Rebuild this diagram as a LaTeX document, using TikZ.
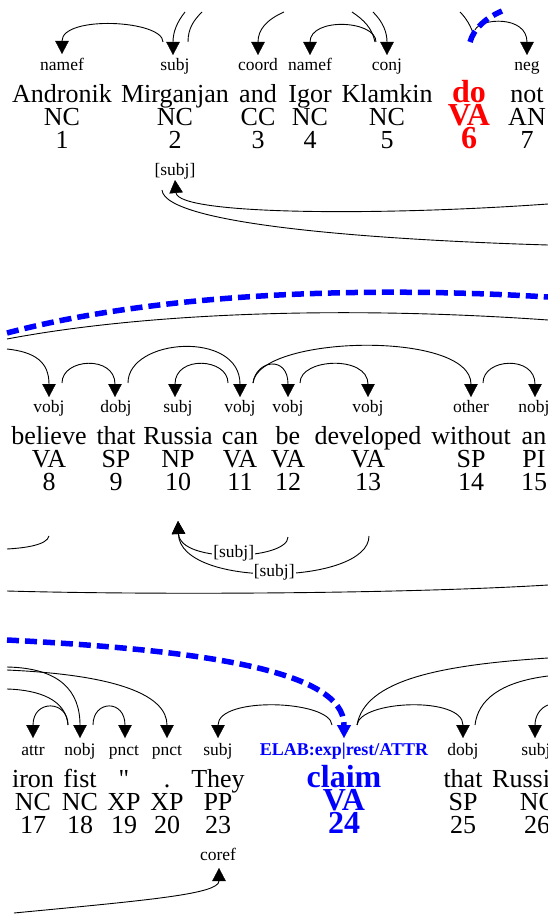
\documentclass[tikz,border=0pt]{standalone}
\usepackage{fontspec}
\setmainfont{Liberation Serif}
\usetikzlibrary{arrows.meta}
\newcommand{\deptok}[7]{%
  \node[lb] (l#1) at (#2,{#3+71}) {#4};
  \node[wd] (w#1) at (#2,{#3+103}) {#5};
  \node[wd] (p#1) at (#2,{#3+126}) {#6};
  \node[wd] (n#1) at (#2,{#3+149}) {#7};}
\newcommand{\straightquote}{\XeTeXglyph\XeTeXcharglyph34\relax}
\begin{document}
\begin{tikzpicture}[x=1pt,y=-1pt,
  wd/.style={font=\fontsize{26}{26}\selectfont,anchor=base,inner sep=0pt},
  lb/.style={font=\fontsize{17.5}{17.5}\selectfont,anchor=base,inner sep=0pt},
  hl/.style={font=\bfseries\fontsize{32}{32}\selectfont,anchor=base,inner sep=0pt},
  hllb/.style={font=\bfseries\fontsize{18}{18}\selectfont,anchor=base,inner sep=0pt,text=blue},
  arc/.style={line width=0.9pt},
  dep/.style={arc,-{Triangle[width=13.5pt,length=13pt,line width=0.4pt]}},
  rel/.style={draw=blue,line width=5.5pt,dash pattern=on 12pt off 6pt},
  relarr/.style={rel,-{Triangle[width=14pt,length=13pt,line width=0.4pt]}},
  sublb/.style={font=\fontsize{17.5}{17.5}\selectfont,fill=white,inner sep=1pt}]
\useasboundingbox (0,0) rectangle (548,917);
\clip (0,0) rectangle (548,917);
% ---------------- strip 1 ----------------
\deptok{1}{62}{0}{namef}{Andronik}{NC}{1}
\deptok{2}{175}{0}{subj}{Mirganjan}{NC}{2}
\deptok{3}{258}{0}{coord}{and}{CC}{3}
\deptok{4}{310}{0}{namef}{Igor}{NC}{4}
\deptok{5}{387}{0}{conj}{Klamkin}{NC}{5}
\node[hl,text=red] (w6) at (469,103) {do};
\node[hl,text=red] (p6) at (469,126) {VA};
\node[hl,text=red] (n6) at (469,149) {6};
\deptok{7}{527}{0}{neg}{not}{AN}{7}
\node[lb] (sj2) at (175,176) {[subj]};
% connectors strip 1
\coordinate (a1s) at (163,42);  \coordinate (a1t) at (62,54);
\coordinate (a2s) at (185,12);  \coordinate (a2t) at (173,55);
\coordinate (a3s) at (188,42);  \coordinate (a3t) at (202,12);
\coordinate (a4s) at (284,12);  \coordinate (a4t) at (258,55);
\coordinate (a5s) at (376,42);  \coordinate (a5t) at (310,55);
\coordinate (a6s) at (375,42);  \coordinate (a6t) at (352,12);
\coordinate (a7s) at (373,12);  \coordinate (a7t) at (387,55);
\coordinate (a8s) at (460,12);  \coordinate (a8t) at (474,36);
\coordinate (a9s) at (470,42);  \coordinate (a9t) at (502,11);
\coordinate (ans) at (475,30);  \coordinate (ant) at (527,55);
\coordinate (b1s) at (548,204); \coordinate (b1t) at (175,180);
\coordinate (b2s) at (162,190); \coordinate (b2t) at (548,245);
\draw[dep] (a1s) .. controls +(0,-22) and +(0,-39) .. (a1t);
\draw[dep] (a2s) .. controls +(-8,10) and +(0,-23) .. (a2t);
\draw[arc] (a3s) .. controls +(0,-14) and +(-8,8) .. (a3t);
\draw[dep] (a4s) .. controls +(-18,8) and +(0,-25) .. (a4t);
\draw[dep] (a5s) .. controls +(0,-22) and +(0,-38) .. (a5t);
\draw[arc] (a6s) .. controls +(-3,-14) and +(12,8) .. (a6t);
\draw[dep] (a7s) .. controls +(10,10) and +(0,-23) .. (a7t);
\draw[arc] (a8s) .. controls +(6,6) and +(-3,-10) .. (a8t);
\draw[dep] (ans) .. controls +(5,-12) and +(0,-40) .. (ant);
\draw[rel] (a9s) .. controls +(4,-14) and +(-16,7) .. (a9t);
\draw[dep] (b1s) .. controls +(-168,12) and +(3,35) .. (b1t);
\draw[arc] (b2s) .. controls +(3,35) and +(-168,-5) .. (b2t);
% ---------------- strip 2 ----------------
\deptok{8}{49}{341}{vobj}{believe}{VA}{8}
\deptok{9}{116}{341}{dobj}{that}{SP}{9}
\deptok{10}{178}{341}{subj}{Russia}{NP}{10}
\deptok{11}{240}{341}{vobj}{can}{VA}{11}
\deptok{12}{288}{341}{vobj}{be}{VA}{12}
\deptok{13}{368}{341}{vobj}{developed}{VA}{13}
\deptok{14}{471}{341}{other}{without}{SP}{14}
\deptok{15}{534}{341}{nobj}{an}{PI}{15}
\coordinate (c1s) at (7,333);   \coordinate (c1t) at (548,297);
\coordinate (c2s) at (7,339);   \coordinate (c2t) at (548,320);
\coordinate (c3s) at (7,349);   \coordinate (c3t) at (49,397);
\coordinate (c4s) at (62,383);  \coordinate (c4t) at (115,397);
\coordinate (c5s) at (128,383); \coordinate (c5t) at (240,397);
\coordinate (c6s) at (228,383); \coordinate (c6t) at (175,397);
\coordinate (c7s) at (253,383); \coordinate (c7t) at (288,397);
\coordinate (c8t) at (471,397);
\coordinate (c9s) at (300,383); \coordinate (c9t) at (368,397);
\coordinate (c10s) at (483,383); \coordinate (c10t) at (535,397);
\coordinate (d1s) at (49,536);  \coordinate (d1t) at (7,549);
\coordinate (d2s) at (288,537); \coordinate (d2t) at (178,521);
\coordinate (d3s) at (369,536);
\coordinate (d4s) at (7,591);   \coordinate (d4t) at (548,585);
\draw[arc] (c2s) .. controls +(143,-27) and +(-198,-14) .. (c2t);
\draw[rel] (c1s) .. controls +(143,-38) and +(-198,-12) .. (c1t);
\draw[dep] (c3s) .. controls +(28,3) and +(0,-35) .. (c3t);
\draw[dep] (c4s) .. controls +(0,-25) and +(0,-42) .. (c4t);
\draw[dep] (c5s) .. controls +(0,-45) and +(0,-67) .. (c5t);
\draw[dep] (c6s) .. controls +(0,-25) and +(0,-42) .. (c6t);
\draw[dep] (c7s) .. controls +(3,-23) and +(0,-42) .. (c7t);
\draw[dep] (c7s) .. controls +(5,-48) and +(0,-67) .. (c8t);
\draw[dep] (c9s) .. controls +(0,-25) and +(0,-42) .. (c9t);
\draw[dep] (c10s) .. controls +(0,-25) and +(0,-42) .. (c10t);
\draw[arc] (d1s) .. controls +(-2,9) and +(18,-1) .. (d1t);
\draw[dep] (d3s) .. controls +(0,49) and +(2,68) .. node[sublb,pos=0.5] {[subj]} (d2t);
\draw[dep] (d2s) .. controls +(0,23) and +(2,43) .. node[sublb,pos=0.5] {[subj]} (d2t);
\draw[arc] (d4s) .. controls +(143,4) and +(-148,9) .. (d4t);
% ---------------- strip 3 ----------------
\deptok{17}{33}{684}{attr}{iron}{NC}{17}
\deptok{18}{80}{684}{nobj}{fist}{NC}{18}
\deptok{19}{124}{684}{pnct}{\straightquote}{XP}{19}
\deptok{20}{167}{684}{pnct}{.}{XP}{20}
\deptok{23}{218}{684}{subj}{They}{PP}{23}
\node[hllb] (l24) at (344,755) {ELAB:exp|rest/ATTR};
\node[hl,text=blue] (w24) at (344,787) {claim};
\node[hl,text=blue] (p24) at (344,810) {VA};
\node[hl,text=blue] (n24) at (344,833) {24};
\deptok{25}{463}{684}{dobj}{that}{SP}{25}
\node[lb] (l26) at (536,755) {subj};
\node[wd,anchor=base west] (w26) at (492,787) {Russia};
\node[wd] (p26) at (538,810) {NC};
\node[wd] (n26) at (537,833) {26};
\node[lb] (cf) at (218,860) {coref};
\coordinate (e1s) at (7,640);   \coordinate (e1t) at (344,738);
\coordinate (e2s) at (7,667);   \coordinate (e2t) at (80,738);
\coordinate (e3s) at (7,670);   \coordinate (e3t) at (167,738);
\coordinate (e4s) at (68,725);  \coordinate (e4t) at (7,689);
\coordinate (e5t) at (33,738);
\coordinate (e6s) at (93,725);  \coordinate (e6t) at (125,738);
\coordinate (e7s) at (332,725); \coordinate (e7t) at (218,738);
\coordinate (e8s) at (357,725); \coordinate (e8t) at (463,738);
\coordinate (e9t) at (548,658);
\coordinate (e10s) at (475,725); \coordinate (e10t) at (548,676);
\coordinate (e11s) at (548,705); \coordinate (e11t) at (535,738);
\coordinate (f1s) at (14,913);  \coordinate (f1t) at (219,868);
\draw[dep] (e2s) .. controls +(53,1) and +(0,-47) .. (e2t);
\draw[dep] (e3s) .. controls +(113,5) and +(0,-42) .. (e3t);
\draw[arc] (e4s) .. controls +(-2,-25) and +(33,1) .. (e4t);
\draw[dep] (e4s) .. controls +(0,-25) and +(0,-39) .. (e5t);
\draw[dep] (e6s) .. controls +(0,-25) and +(0,-39) .. (e6t);
\draw[dep] (e7s) .. controls +(-2,-25) and +(0,-42) .. (e7t);
\draw[dep] (e8s) .. controls +(3,-25) and +(0,-42) .. (e8t);
\draw[arc] (e8s) .. controls +(8,-45) and +(-108,7) .. (e9t);
\draw[arc] (e10s) .. controls +(3,-25) and +(-48,6) .. (e10t);
\draw[dep] (e11s) .. controls +(-8,3) and +(0,-22) .. (e11t);
\draw[relarr] (e1s) .. controls +(193,10) and +(0,-68) .. (e1t);
\draw[dep] (f1s) .. controls +(136,-13) and +(0,26) .. (f1t);
\end{tikzpicture}
\end{document}
